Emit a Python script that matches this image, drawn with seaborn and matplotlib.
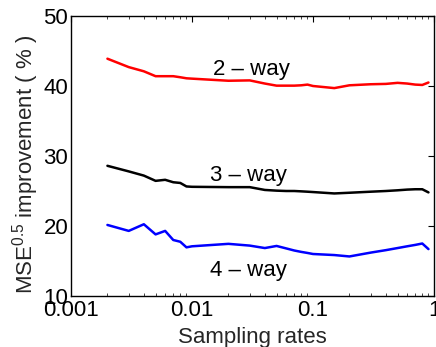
import numpy as np
import pandas as pd
import matplotlib
matplotlib.use("Agg")
import matplotlib.pyplot as plt
import seaborn as sns
from matplotlib.ticker import LogLocator, FixedLocator, NullFormatter

rates = [0.002, 0.003, 0.004, 0.005, 0.006, 0.007, 0.008, 0.009, 0.01,
         0.02, 0.03, 0.04, 0.05, 0.06, 0.07, 0.08, 0.09, 0.1,
         0.15, 0.2, 0.3, 0.4, 0.5, 0.6, 0.7, 0.8, 0.9]
way2 = [43.9, 42.7, 42.1, 41.4, 41.4, 41.4, 41.25, 41.1, 41.05,
        40.75, 40.8, 40.35, 40.05, 40.05, 40.05, 40.1, 40.2, 40.0,
        39.7, 40.1, 40.25, 40.3, 40.45, 40.35, 40.2, 40.15, 40.5]
way3 = [28.6, 27.8, 27.2, 26.45, 26.6, 26.25, 26.15, 25.65, 25.6,
        25.55, 25.55, 25.15, 25.05, 25.0, 25.0, 24.95, 24.9, 24.85,
        24.65, 24.75, 24.9, 25.0, 25.1, 25.2, 25.25, 25.25, 24.8]
way4 = [20.15, 19.3, 20.25, 18.8, 19.3, 18.0, 17.75, 16.95, 17.1,
        17.45, 17.2, 16.85, 17.15, 16.8, 16.5, 16.3, 16.15, 16.0,
        15.85, 15.65, 16.2, 16.55, 16.85, 17.1, 17.3, 17.5, 16.7]
series_names = ["2 \u2013 way", "3 \u2013 way", "4 \u2013 way"]
series_colors = ["#ff0000", "#000000", "#0000ff"]
label_pos = [(0.0149, 41.6), (0.0140, 26.45), (0.0142, 12.9)]
x_ticks = [0.001, 0.01, 0.1, 1]
x_ticklabels = ["0.001", "0.01", "0.1", "1"]
y_ticks = [10, 20, 30, 40, 50]

sns.set_style("white")
plt.rcParams['font.family'] = ['Liberation Sans', 'DejaVu Sans']
plt.rcParams['mathtext.fontset'] = 'custom'
plt.rcParams['mathtext.rm'] = 'Liberation Sans'
plt.rcParams['mathtext.it'] = 'Liberation Sans:italic'

df = pd.DataFrame({
    "rate": rates * 3,
    "value": way2 + way3 + way4,
    "series": [series_names[0]] * len(rates) + [series_names[1]] * len(rates) + [series_names[2]] * len(rates),
})

fig = plt.figure(figsize=(4.36, 3.47), dpi=100)
ax = fig.add_axes([71/436, 51/347, 363/436, 280/347])
sns.lineplot(data=df, x="rate", y="value", hue="series",
             palette=dict(zip(series_names, series_colors)),
             linewidth=1.8, legend=False, ax=ax, estimator=None, sort=False)
ax.set_xscale("log")
ax.set_xlim(0.001, 1)
ax.set_ylim(10, 50)
ax.xaxis.set_major_locator(FixedLocator(x_ticks))
ax.set_xticklabels(x_ticklabels)
ax.xaxis.set_minor_locator(LogLocator(base=10, subs=np.arange(2, 10)))
ax.xaxis.set_minor_formatter(NullFormatter())
ax.set_yticks(y_ticks)

for sp in ax.spines.values():
    sp.set_visible(True)
    sp.set_color("black")
    sp.set_linewidth(1.0)

ax.tick_params(axis="both", which="major", direction="in", length=4, width=0.8,
               top=True, right=True, labelsize=16, colors="black", pad=3)
ax.tick_params(axis="x", which="minor", direction="in", length=2, width=0.6,
               top=True, bottom=True)
ax.tick_params(axis="y", pad=2)

for name, (lx, ly) in zip(series_names, label_pos):
    ax.text(lx, ly, name, fontsize=16, ha="left", va="baseline", color="black")

ax.set_xlabel("Sampling rates", fontsize=16, labelpad=4)
ax.set_ylabel("MSE$^{0.5}$ improvement ( % )", fontsize=16, labelpad=2)
ax.yaxis.label.set_y(0.47)

fig.savefig("out.png", dpi=100)
